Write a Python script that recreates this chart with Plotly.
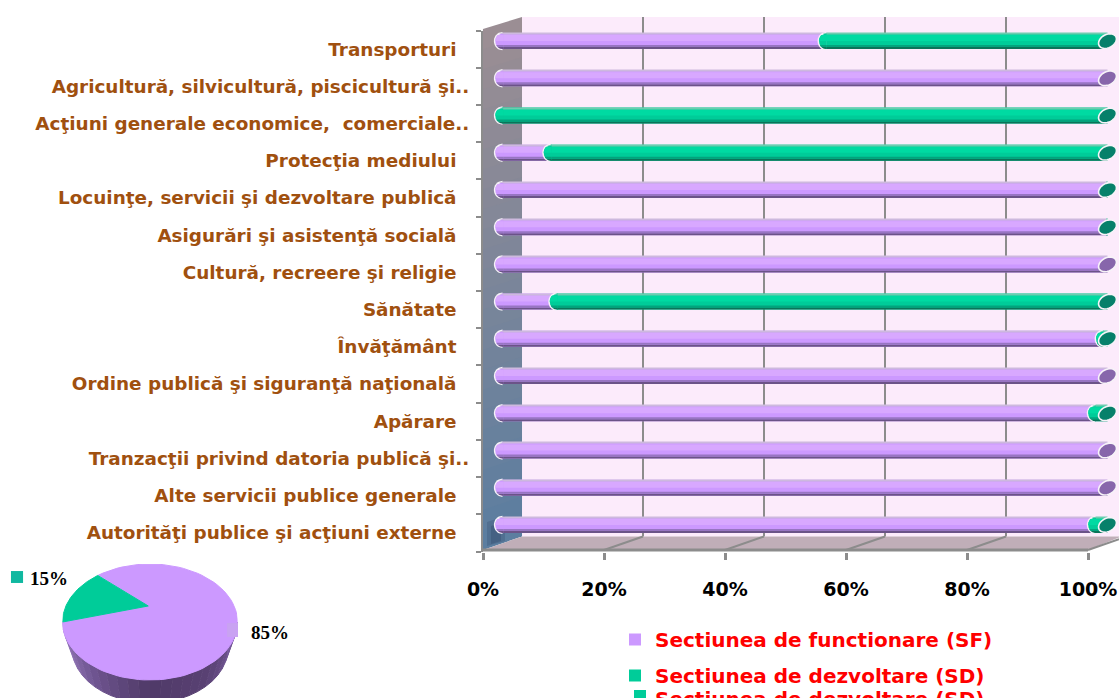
import numpy as np
import plotly.graph_objects as go

# ---------- data (bottom row first) ----------
categories = [
    "Autorităţi publice şi acţiuni externe\u00a0\u00a0",
    "Alte servicii publice generale\u00a0\u00a0",
    "Tranzacţii privind datoria publică şi..",
    "Apărare\u00a0\u00a0",
    "Ordine publică şi siguranţă naţională\u00a0\u00a0",
    "Învăţământ\u00a0\u00a0",
    "Sănătate\u00a0\u00a0",
    "Cultură, recreere şi religie\u00a0\u00a0",
    "Asigurări şi asistenţă socială\u00a0\u00a0",
    "Locuinţe, servicii şi dezvoltare publică\u00a0\u00a0",
    "Protecţia mediului\u00a0\u00a0",
    "Acţiuni generale economice,  comerciale..",
    "Agricultură, silvicultură, piscicultură şi..",
    "Transporturi\u00a0\u00a0",
]
sf_values = [98, 100, 100, 98, 100, 99.3, 9, 100, 99.9, 99.9, 8, 0, 100, 53.5]
sd_values = [2, 0, 0, 2, 0, 0.7, 91, 0, 0.1, 0.1, 92, 100, 0, 46.5]
x_ticks = [0, 20, 40, 60, 80, 100]
pie_labels = ["Sectiunea de functionare (SF)", "Sectiunea de dezvoltare (SD)"]
pie_values = [85, 15]

# ---------- geometry / style ----------
W, H = 1119, 698
px = lambda v: v / W
py = lambda v: 1 - v / H

X0, X100 = 483.0, 1088.0      # front axis
Y_TOP, Y_BOT = 29.0, 550.0    # front of the 3D box
LABEL_DY = 1.5                # the labelled axis sits a touch lower than the box edge
DX, DY = 39.0, 13.5           # depth of the 3D box
PCT = (X100 - X0) / 100
ROW = (Y_BOT - Y_TOP) / len(categories)
BAR_DX, BAR_DY = 19.5, 6.5 + LABEL_DY    # bars sit halfway through the box

PURPLE, GREEN = "#CC99FF", "#00CC99"
PURPLE_CAP, GREEN_CAP = "#8766AB", "#06806A"
BANDS = {
    "SF": [(-8, 8, PURPLE), (-8, -6, "#6B5388"), (-6, -4, "#9775C2"), (0, 6, "#D8A8FF"), (7, 8, "#CDB9DE")],
    "SD": [(-8, 8, GREEN), (-8, -6, "#0A7459"), (-6, -4, "#03A37D"), (0, 6, "#00DAA2"), (7, 8, "#6CCDB0")],
}
BROWN = "#A0500F"
GREY = "#8C8C8C"
WALL = "#FCEBFB"
FLOOR = "#C0AEB8"
WALL_TOP, WALL_BOTTOM = np.array([0x9B, 0x8E, 0x94]), np.array([0x5C, 0x7E, 0xA0])

def lerp_color(a, b, t):
    c = a + (b - a) * t
    return "rgb(%d,%d,%d)" % tuple(c)

shapes = []

def poly(points, fill, layer="below", width=0, color=None):
    path = "M" + " L".join("%.4f,%.4f" % (px(x), py(y)) for x, y in points) + " Z"
    shapes.append(dict(type="path", xref="paper", yref="paper", path=path, fillcolor=fill,
                       line=dict(width=width, color=color or fill), layer=layer))

def seg(x0, y0, x1, y1, width=2, color=GREY):
    shapes.append(dict(type="line", xref="paper", yref="paper", x0=px(x0), y0=py(y0), x1=px(x1), y1=py(y1),
                       line=dict(width=width, color=color), layer="below"))

# back wall
poly([(X0 + DX, Y_TOP - 12), (W, Y_TOP - 12), (W, Y_BOT - DY), (X0 + DX, Y_BOT - DY)], WALL)
# left wall, graded top to bottom
n = 26
for i in range(n):
    a, b = i / n, (i + 1.3) / n
    poly([(X0, Y_TOP + (Y_BOT - Y_TOP) * a), (X0 + DX, Y_TOP - 12 + (Y_BOT - DY - Y_TOP + 12) * a),
          (X0 + DX, Y_TOP - 12 + (Y_BOT - DY - Y_TOP + 12) * min(b, 1)), (X0, Y_TOP + (Y_BOT - Y_TOP) * min(b, 1))],
         lerp_color(WALL_TOP, WALL_BOTTOM, i / (n - 1)))
# soft shadow at the foot of the left wall
poly([(X0 + 4, 546), (X0 + 4, 522), (X0 + 22, 516), (X0 + 22, 541)], "rgba(40,60,90,0.22)")
poly([(X0 + 8, 544), (X0 + 8, 526), (X0 + 18, 522), (X0 + 18, 541)], "rgba(30,50,80,0.22)")
# floor
poly([(X0, Y_BOT), (X0 + DX, Y_BOT - DY), (W, Y_BOT - DY), (W, Y_BOT - DY + 1), (X100, Y_BOT)], FLOOR)
# grid on wall and floor
for t in x_ticks[1:]:
    fx = X0 + t * PCT
    seg(fx, Y_BOT, min(fx + DX, W), Y_BOT - DY if fx + DX <= W else Y_BOT - DY * (W - fx) / DX, 2)
    if fx + DX < W:
        seg(fx + DX, Y_TOP - 12, fx + DX, Y_BOT - DY, 2)
seg(X0, Y_BOT, X100, Y_BOT, 3)

traces = []
# invisible carrier that gives the labelled front axis its categories
traces.append(go.Scatter(x=[0] * len(categories), y=categories, xaxis="x", yaxis="y", mode="markers",
                         marker=dict(opacity=0), showlegend=False, hoverinfo="skip"))

def band_traces(key, values, base, name):
    for i, (lo, hi, color) in enumerate(BANDS[key]):
        traces.append(go.Bar(
            x=values, base=base, y=categories, orientation="h", xaxis="x2", yaxis="y2",
            width=(hi - lo) / ROW, offset=lo / ROW, marker=dict(color=color, line=dict(width=0)),
            name=name, legendgroup=name, showlegend=i == 0, hoverinfo="skip"))

band_traces("SF", sf_values, [0] * len(categories), pie_labels[0])
band_traces("SD", sd_values, sf_values, pie_labels[1])

# cylinder ends
def anchored(x, cat, path, fill, line=None):
    shapes.append(dict(type="path", xref="x2", yref="y2", xsizemode="pixel", ysizemode="pixel",
                       xanchor=x, yanchor=cat, path=path, fillcolor=fill, layer="above",
                       line=dict(width=1.6 if line else 0, color=line or fill)))

def half_path(lo, hi, r):
    ys = np.linspace(lo, hi, 7)
    xs = -r * np.sqrt(np.clip(1 - (ys / 8.0) ** 2, 0, 1))
    pts = [(0.6, lo)] + list(zip(xs, ys)) + [(0.6, hi)]
    return "M" + " L".join("%.2f,%.2f" % p for p in pts) + " Z"

def left_end(x, cat, key):
    ys = np.linspace(-9.2, 9.2, 21)
    xs = -8.6 * np.sqrt(np.clip(1 - (ys / 9.2) ** 2, 0, 1))
    anchored(x, cat, "M" + " L".join("%.2f,%.2f" % p for p in zip(xs, ys)) + " Z", "#F6F2F8")
    for lo, hi, color in BANDS[key]:
        anchored(x, cat, half_path(lo, hi, 7.2), color)

def right_end(x, cat, color):
    t = np.linspace(0, 2 * np.pi, 33)[:-1]
    rot = np.radians(28)
    ex, ey = 9.5 * np.cos(t), 6.6 * np.sin(t)
    pts = zip(ex * np.cos(rot) - ey * np.sin(rot), ex * np.sin(rot) + ey * np.cos(rot))
    anchored(x, cat, "M" + " L".join("%.2f,%.2f" % p for p in pts) + " Z", color, "#F7F3F8")

for cat, sf, sd in zip(categories, sf_values, sd_values):
    if sf > 0:
        left_end(0, cat, "SF")
    if sd >= 0.5:
        left_end(sf, cat, "SD")
    right_end(sf + sd, cat, GREEN_CAP if sd > 0 else PURPLE_CAP)

# ---------- 3D pie on its own axes: the unit circle becomes an ellipse through their scales ----------
PIE_CX, PIE_CY, PIE_RX, PIE_RY = 150.0, 622.0, 87.5, 58.0
start_deg = 180.0
sd_span = 360.0 * pie_values[1] / sum(pie_values)
apex = (-0.02, 0.276)
low_c, low_rx, low_ry = -0.448, 0.891, 0.948
side_stops = [np.array(c) for c in [(0x9C, 0x7E, 0xC0), (0x70, 0x56, 0x92), (0x50, 0x3A, 0x68), (0x5A, 0x42, 0x74), (0x78, 0x5C, 0x9C)]]
m = 24
for i in range(m):
    a0, a1 = np.radians(180 + 180 * i / m), np.radians(180 + 180 * (i + 1) / m)
    th = np.linspace(a0, a1, 5)
    xs = np.r_[np.cos(th), low_rx * np.cos(th[::-1])]
    ys = np.r_[np.sin(th), low_c + low_ry * np.sin(th[::-1])]
    f = i / (m - 1) * (len(side_stops) - 1)
    k = min(int(f), len(side_stops) - 2)
    col = lerp_color(side_stops[k], side_stops[k + 1], f - k)
    traces.append(go.Scatter(x=xs, y=ys, xaxis="x3", yaxis="y3", mode="lines", fill="toself", fillcolor=col,
                             line=dict(color=col, width=1), showlegend=False, hoverinfo="skip"))

def slice_trace(d0, d1, color, line=None):
    th = np.radians(np.linspace(d0, d1, 90))
    traces.append(go.Scatter(x=np.r_[apex[0], np.cos(th), apex[0]], y=np.r_[apex[1], np.sin(th), apex[1]],
                             xaxis="x3", yaxis="y3", mode="lines", fill="toself", fillcolor=color,
                             line=dict(color=line or color, width=1), showlegend=False, hoverinfo="skip"))

slice_trace(start_deg - sd_span, start_deg - 360, PURPLE)
slice_trace(start_deg - sd_span, start_deg, GREEN)

# pie keys
for (x0, y0, x1, y1), c in [((11, 571, 23, 583), "#10B8A0"), ((227, 623, 238, 637), "#C9A2F2")]:
    poly([(x0, y0), (x1, y0), (x1, y1), (x0, y1)], c, layer="above")

annotations = [
    dict(text="<b>%d%%</b>" % pie_values[1], x=px(49), y=py(578), xref="paper", yref="paper", showarrow=False,
         font=dict(family="Liberation Serif", size=19, color="#000000"), xanchor="center", yanchor="middle"),
    dict(text="<b>%d%%</b>" % pie_values[0], x=px(270), y=py(632), xref="paper", yref="paper", showarrow=False,
         font=dict(family="Liberation Serif", size=19, color="#000000"), xanchor="center", yanchor="middle"),
    dict(text="<b>%s</b>" % pie_labels[1], x=px(655), y=py(699), xref="paper", yref="paper", showarrow=False,
         font=dict(family="DejaVu Sans", size=20, color="#FF0000"), xanchor="left", yanchor="middle",
         xshift=-2),
]

# the clipped third legend row's swatch
poly([(634, 690), (646, 690), (646, 698), (634, 698)], GREEN, layer="above")

fig = go.Figure(traces)
fig.update_layout(
    width=W, height=H, margin=dict(l=0, r=0, t=0, b=0, pad=0, autoexpand=False),
    paper_bgcolor="#FFFFFF", plot_bgcolor="rgba(0,0,0,0)",
    barmode="overlay", shapes=shapes, annotations=annotations, hovermode=False,
    legend=dict(x=px(615), y=py(620), xanchor="left", yanchor="top", tracegroupgap=7, bgcolor="rgba(0,0,0,0)",
                font=dict(family="DejaVu Sans", size=20, color="#FF0000", weight="bold"),
                itemclick=False, itemdoubleclick=False, traceorder="grouped", borderwidth=0),
    xaxis=dict(domain=[px(X0), 1], range=[0, (W - X0) / PCT], tickmode="array", tickvals=x_ticks, automargin=False,
               ticktext=["%d%%" % t for t in x_ticks], ticks="outside", ticklen=7, tickwidth=3, tickcolor=GREY,
               ticklabelstandoff=14, showgrid=False, zeroline=False, showline=False, anchor="y",
               tickfont=dict(family="DejaVu Sans", size=19, color="#000000", weight="bold")),
    yaxis=dict(domain=[py(Y_BOT + LABEL_DY), py(Y_TOP + LABEL_DY)], type="category", categoryorder="array",
               categoryarray=categories,
               range=[-0.5, len(categories) - 0.5], tickson="boundaries", ticks="outside", ticklen=5, tickwidth=2,
               tickcolor=GREY, showline=True, linecolor=GREY, linewidth=2, showgrid=False, zeroline=False,
               anchor="x", ticklabelstandoff=8, automargin=False,
               tickfont=dict(family="DejaVu Sans", size=18.4, color=BROWN, weight="bold")),
    xaxis2=dict(overlaying="x", anchor="y2", visible=False,
                range=[-BAR_DX / PCT, (W - X0 - BAR_DX) / PCT]),
    yaxis2=dict(overlaying="y", anchor="x2", visible=False, type="category", categoryorder="array",
                categoryarray=categories,
                range=[-0.5 - BAR_DY / ROW, len(categories) - 0.5 - BAR_DY / ROW]),
    xaxis3=dict(domain=[px(PIE_CX - PIE_RX), px(PIE_CX + PIE_RX)], range=[-1, 1], visible=False, anchor="y3"),
    yaxis3=dict(domain=[0, py(PIE_CY - PIE_RY)], range=[(PIE_CY - H) / PIE_RY, 1], visible=False, anchor="x3"),
)

fig.write_html("out.html", config={"displayModeBar": False},
               post_script="document.body.style.margin='0';document.body.style.overflow='hidden';"
                           "var d=document.querySelector('.plotly-graph-div');"
                           "d.style.position='fixed';d.style.left='0';d.style.top='0';")
